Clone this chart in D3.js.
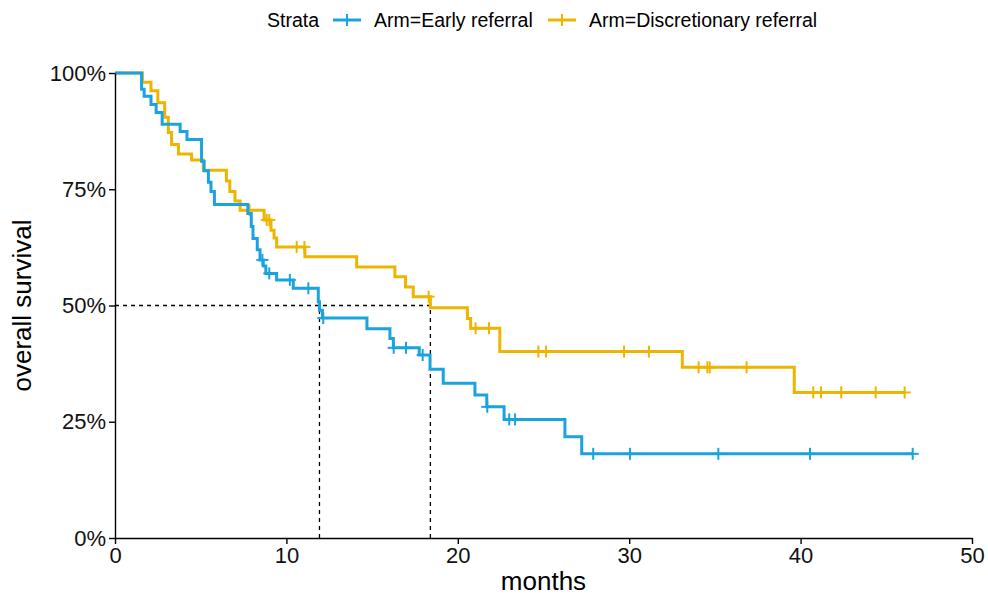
<!DOCTYPE html>
<html><head><meta charset="utf-8">
<script src="https://cdn.jsdelivr.net/npm/d3@7"></script>
<style>body{margin:0;background:#fff}svg{display:block}</style>
</head><body>
<svg id="chart" width="988" height="599"></svg>
<script>
// ---- data ----
const strataLabels = ["Arm=Early referral", "Arm=Discretionary referral"];
const earlyTimes = [0, 1.55, 1.7, 2.1, 2.4, 2.75, 3.8, 4.2, 5.05, 5.2, 5.45, 5.6, 5.8, 7.75, 7.95, 8.05, 8.3, 8.46, 8.65, 8.8, 9.43, 10.4, 11.86, 11.93, 12.1, 14.7, 16.04, 16.24, 17.75, 18.38, 19.15, 21.0, 21.69, 22.7, 26.25, 27.23, 46.54];
const earlySurv  = [1, 0.965, 0.95, 0.932, 0.915, 0.89, 0.874, 0.857, 0.81, 0.79, 0.765, 0.745, 0.717, 0.698, 0.67, 0.644, 0.62, 0.598, 0.585, 0.569, 0.555, 0.537, 0.508, 0.49, 0.473, 0.45, 0.429, 0.409, 0.3935, 0.363, 0.333, 0.3075, 0.282, 0.255, 0.218, 0.181, 0.181];
const earlyCensor = [8.6, 9.0, 10.2, 11.28, 12.15, 16.26, 16.98, 17.95, 21.72, 23.0, 23.34, 27.9, 30.05, 35.2, 40.55, 46.54];
const discTimes = [0, 1.6, 2.1, 2.5, 2.9, 3.11, 3.3, 3.7, 4.47, 5.15, 6.5, 6.7, 7.0, 7.3, 8.7, 9.1, 9.28, 9.43, 11.08, 14.1, 16.33, 16.95, 17.4, 18.4, 20.56, 20.75, 22.45, 33.1, 39.63, 46.07];
const discSurv  = [1, 0.98, 0.962, 0.936, 0.905, 0.872, 0.846, 0.826, 0.813, 0.791, 0.768, 0.745, 0.725, 0.705, 0.684, 0.662, 0.645, 0.626, 0.605, 0.583, 0.562, 0.54, 0.519, 0.495, 0.472, 0.451, 0.401, 0.367, 0.313, 0.313];
const discCensor = [7.85, 8.85, 9.0, 10.6, 11.05, 18.3, 21.04, 21.82, 24.7, 25.15, 29.7, 31.15, 34.05, 34.56, 34.7, 36.85, 40.74, 41.19, 42.37, 44.38, 46.07];
const medians = [11.93, 18.4];
const xTicks = [0, 10, 20, 30, 40, 50];
const yTicks = [0, 0.25, 0.5, 0.75, 1];
const yTickLabels = ["0%", "25%", "50%", "75%", "100%"];
const colors = ["#1AA3DE", "#EDB500"];

// ---- chart ----
const svg = d3.select("#chart");
const font = "'Liberation Sans', Arial, sans-serif";
const x = d3.scaleLinear().domain([0, 50]).range([115, 972]);
const y = d3.scaleLinear().domain([0, 1]).range([538, 73]);

const series = [
  {times: earlyTimes, surv: earlySurv, censor: earlyCensor, color: colors[0]},
  {times: discTimes, surv: discSurv, censor: discCensor, color: colors[1]}
];
function survAt(s, t) {
  let v = s.surv[0];
  for (let i = 0; i < s.times.length; i++) { if (s.times[i] <= t) v = s.surv[i]; }
  return v;
}

// median dashed lines
const dash = svg.append("g").attr("stroke", "#000").attr("stroke-width", 1.3)
  .attr("stroke-dasharray", "4,4").attr("fill", "none");
dash.append("line").attr("x1", x(0)).attr("x2", x(d3.max(medians))).attr("y1", y(0.5)).attr("y2", y(0.5));
medians.forEach(m => dash.append("line").attr("x1", x(m)).attr("x2", x(m)).attr("y1", y(0)).attr("y2", y(0.5)));

// curves
const line = d3.line().x(d => x(d[0])).y(d => y(d[1])).curve(d3.curveStepAfter);
[series[1], series[0]].forEach(s => {
  const pts = s.times.map((t, i) => [t, s.surv[i]]);
  svg.append("path").attr("d", line(pts)).attr("fill", "none")
    .attr("stroke", s.color).attr("stroke-width", 3);
  const g = svg.append("g").attr("stroke", s.color).attr("stroke-width", 2);
  s.censor.forEach(t => {
    const cx = x(t), cy = y(survAt(s, t));
    g.append("line").attr("x1", cx).attr("x2", cx).attr("y1", cy - 6).attr("y2", cy + 6);
    g.append("line").attr("x1", cx - 6).attr("x2", cx + 6).attr("y1", cy).attr("y2", cy);
  });
});

// axes
const xAxis = svg.append("g").attr("transform", `translate(0,${y(0)})`)
  .call(d3.axisBottom(x).tickValues(xTicks).tickSize(6).tickPadding(3).tickSizeOuter(0));
const yAxis = svg.append("g").attr("transform", `translate(${x(0)},0)`)
  .call(d3.axisLeft(y).tickValues(yTicks).tickFormat((d, i) => yTickLabels[i]).tickSize(6).tickPadding(3).tickSizeOuter(0));
[xAxis, yAxis].forEach(a => {
  a.select(".domain").attr("stroke", "#000").attr("stroke-width", 1.4);
  a.selectAll(".tick line").attr("stroke", "#000").attr("stroke-width", 1.4);
  a.selectAll(".tick text").attr("fill", "#111").style("font-family", font).style("font-size", "22px");
});

// axis titles
svg.append("text").attr("x", x(25)).attr("y", 590).attr("text-anchor", "middle")
  .style("font-family", font).style("font-size", "26px").text("months");
svg.append("text").attr("transform", `translate(31,${y(0.5)}) rotate(-90)`).attr("text-anchor", "middle")
  .style("font-family", font).style("font-size", "26px").text("overall survival");

// legend
const lg = svg.append("g").style("font-family", font).style("font-size", "19.5px");
lg.append("text").attr("x", 267).attr("y", 27).text("Strata");
const keyX = [333, 548], textX = [374, 589];
strataLabels.forEach((lab, i) => {
  const k = lg.append("g").attr("stroke", colors[i]);
  k.append("line").attr("x1", keyX[i]).attr("x2", keyX[i] + 28).attr("y1", 20).attr("y2", 20).attr("stroke-width", 3);
  k.append("line").attr("x1", keyX[i] + 14).attr("x2", keyX[i] + 14).attr("y1", 14).attr("y2", 26).attr("stroke-width", 2);
  lg.append("text").attr("x", textX[i]).attr("y", 27).text(lab);
});
</script>
</body></html>
